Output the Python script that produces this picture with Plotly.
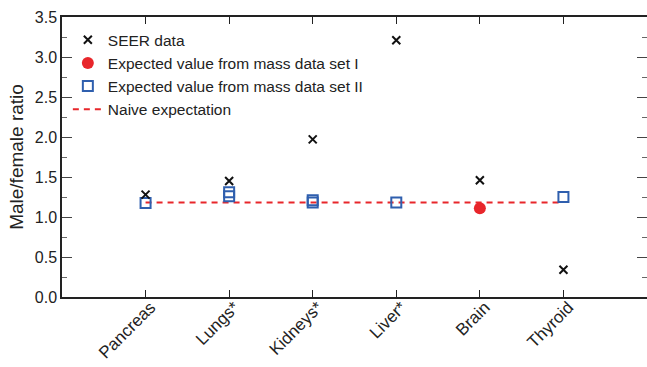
import plotly.graph_objects as go

categories = ["Pancreas", "Lungs*", "Kidneys*", "Liver*", "Brain", "Thyroid"]
cat_pos = [1, 2, 3, 4, 5, 6]

seer_x = [1, 2, 3, 4, 5, 6]
seer_y = [1.28, 1.45, 1.97, 3.21, 1.46, 0.34]

set1_x = [5]
set1_y = [1.11]

set2_x = [1, 2, 2, 3, 3, 4, 6]
set2_y = [1.175, 1.26, 1.31, 1.18, 1.21, 1.18, 1.25]

naive_x = [1, 6]
naive_y = [1.18, 1.18]

yticks = [0.0, 0.5, 1.0, 1.5, 2.0, 2.5, 3.0, 3.5]

RED = "#e8262b"
BLUE = "#2f5fae"
FONT = "Liberation Sans, Arial, sans-serif"

fig = go.Figure()
fig.add_trace(go.Scatter(x=naive_x, y=naive_y, mode="lines", name="Naive expectation",
                         line=dict(color=RED, width=2, dash="6px,5px"), legendrank=4))
fig.add_trace(go.Scatter(x=set2_x, y=set2_y, mode="markers", name="Expected value from mass data set II",
                         marker=dict(symbol="square-open", size=10, color=BLUE, line=dict(width=2, color=BLUE)),
                         legendrank=3))
fig.add_trace(go.Scatter(x=set1_x, y=set1_y, mode="markers", name="Expected value from mass data set I",
                         marker=dict(symbol="circle", size=12, color=RED), legendrank=2))
fig.add_trace(go.Scatter(x=seer_x, y=seer_y, mode="markers", name="SEER data",
                         marker=dict(symbol="x-thin", size=8, color="black", line=dict(width=2, color="#111")),
                         legendrank=1))

fig.update_layout(
    width=647, height=367,
    margin=dict(l=62, r=0, t=17, b=70, autoexpand=False),
    plot_bgcolor="white", paper_bgcolor="white",
    font=dict(family=FONT, size=16, color="#222"),
    legend=dict(x=0.01, y=0.978, xanchor="left", yanchor="top", bgcolor="rgba(0,0,0,0)",
                font=dict(size=15.5, color="#222"), itemwidth=30, tracegroupgap=0),
    showlegend=True,
)
fig.update_xaxes(range=[0, 7.0], tickmode="array", tickvals=cat_pos, ticktext=categories,
                 tickangle=-45, ticks="inside", ticklen=7, tickcolor="#222", showline=True,
                 linecolor="#222", linewidth=1.5, mirror="ticks", showgrid=False, zeroline=False,
                 tickfont=dict(size=17), automargin=False, ticklabelshift=5, ticklabelstandoff=-8)
fig.update_yaxes(range=[0, 3.5], tickmode="array", tickvals=yticks,
                 ticktext=[f"{v:.1f}" for v in yticks], ticks="inside", ticklen=10, tickcolor="#444",
                 showline=True, linecolor="#222", linewidth=1.5, mirror="ticks", showgrid=False,
                 zeroline=False, title=dict(text="Male/female ratio", standoff=6),
                 minor=dict(ticks="inside", ticklen=5, dtick=0.25, tick0=0, tickcolor="#666"),
                 tickfont=dict(size=16), automargin=False)

fig.write_html("out.html")
